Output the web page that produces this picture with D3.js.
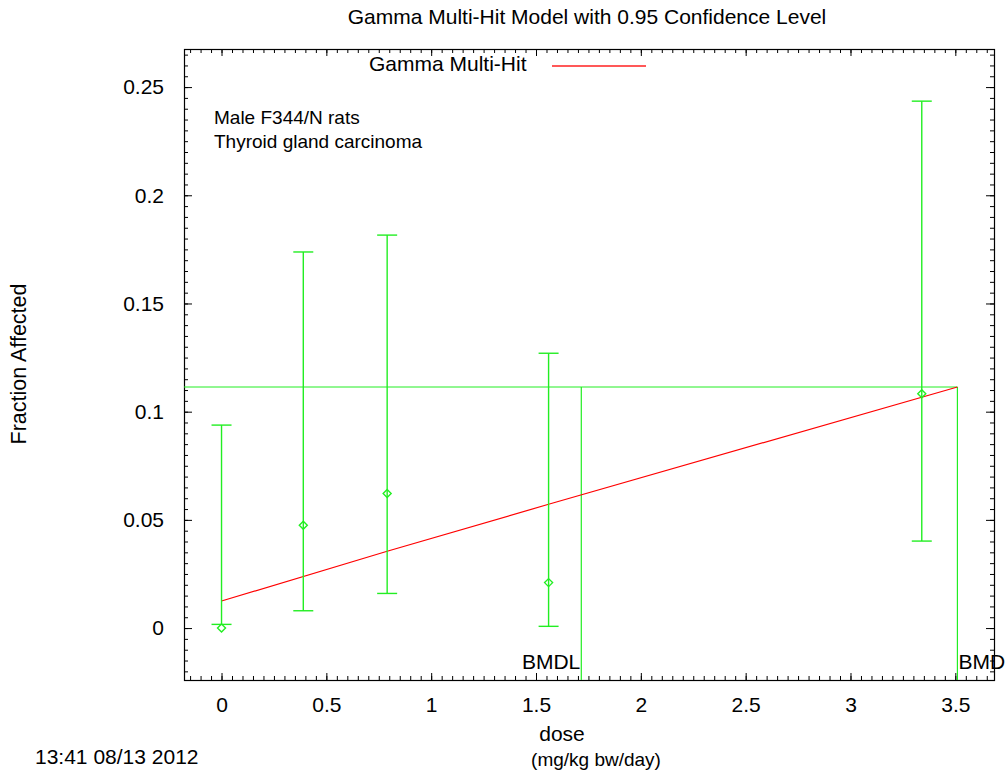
<!DOCTYPE html>
<html>
<head>
<meta charset="utf-8">
<script src="https://cdn.jsdelivr.net/npm/d3@7"></script>
<style>
  body { margin: 0; background: #fff; }
  text { font-family: "Liberation Sans", Arial, sans-serif; fill: #000; }
</style>
</head>
<body>
<div id="chart"></div>
<script>
// observed dose groups
var doses = [0, 0.39, 0.79, 1.56, 3.34];
var observed = [0, 0.0475, 0.0622, 0.021, 0.1083];
var lowerCI = [0.0017, 0.008, 0.016, 0.0008, 0.0402];
var upperCI = [0.0938, 0.1738, 0.1816, 0.127, 0.2435];

// fitted gamma multi-hit curve
var modelDose = [0, 0.79, 1.56, 3.51];
var modelFrac = [0.0125, 0.0355, 0.0572, 0.1114];

var bmd = 3.51, bmdl = 1.716, bmrLevel = 0.1114;

var xMajor = [0, 0.5, 1, 1.5, 2, 2.5, 3, 3.5];
var yMajor = [0, 0.05, 0.1, 0.15, 0.2, 0.25];
var xLabels = ["0", "0.5", "1", "1.5", "2", "2.5", "3", "3.5"];
var yLabels = ["0", "0.05", "0.1", "0.15", "0.2", "0.25"];

(function() {
var W = 1007, H = 776;
var pLeft = 184, pRight = 994, pTop = 49, pBottom = 680;

var svg = d3.select("#chart").append("svg")
    .attr("width", W)
    .attr("height", H);

var x = d3.scaleLinear().domain([-0.179, 3.6845]).range([pLeft, pRight]);
var y = d3.scaleLinear().domain([-0.024, 0.2676]).range([pBottom, pTop]);

// minor ticks every 0.05 / 0.005
var xMinor = d3.range(-3, 74).map(function(i) { return i * 0.05; })
    .filter(function(v) { return v > x.domain()[0] && v < x.domain()[1]; });
var yMinor = d3.range(-4, 54).map(function(i) { return i * 0.005; })
    .filter(function(v) { return v > y.domain()[0] && v < y.domain()[1]; });

var green = "#22ee22";

function tickAxis(axis, vals, size, fmt) {
    return axis.tickValues(vals).tickSize(size).tickFormat(fmt || "");
}

// bottom
svg.append("g").attr("transform", "translate(0," + pBottom + ")")
    .call(tickAxis(d3.axisBottom(x), xMinor, -4));
svg.append("g").attr("transform", "translate(0," + pBottom + ")")
    .call(tickAxis(d3.axisBottom(x), xMajor, -7, function(d, i) { return xLabels[i]; }).tickPadding(17));
// top
svg.append("g").attr("transform", "translate(0," + pTop + ")")
    .call(tickAxis(d3.axisTop(x), xMinor, -4));
svg.append("g").attr("transform", "translate(0," + pTop + ")")
    .call(tickAxis(d3.axisTop(x), xMajor, -7));
// left
svg.append("g").attr("transform", "translate(" + pLeft + ",0)")
    .call(tickAxis(d3.axisLeft(y), yMinor, -4));
svg.append("g").attr("transform", "translate(" + pLeft + ",0)")
    .call(tickAxis(d3.axisLeft(y), yMajor, -8, function(d, i) { return yLabels[i]; }).tickPadding(20));
// right
svg.append("g").attr("transform", "translate(" + pRight + ",0)")
    .call(tickAxis(d3.axisRight(y), yMinor, -4));
svg.append("g").attr("transform", "translate(" + pRight + ",0)")
    .call(tickAxis(d3.axisRight(y), yMajor, -8));

svg.selectAll(".domain").remove();
svg.selectAll(".tick line").attr("stroke", "#000");
svg.selectAll(".tick text")
    .style("font-size", "21px")
    .style("font-family", "'Liberation Sans', Arial, sans-serif")
    .attr("fill", "#000");

// frame
svg.append("rect")
    .attr("x", pLeft + 0.5).attr("y", pTop + 0.5)
    .attr("width", pRight - pLeft).attr("height", pBottom - pTop)
    .attr("fill", "none").attr("stroke", "#000").attr("stroke-width", 1.2);

// BMR horizontal and BMD/BMDL verticals
svg.append("line")
    .attr("x1", pLeft).attr("x2", x(bmd))
    .attr("y1", y(bmrLevel)).attr("y2", y(bmrLevel))
    .attr("stroke", green).attr("stroke-width", 1);
[bmdl, bmd].forEach(function(v) {
    svg.append("line")
        .attr("x1", x(v)).attr("x2", x(v))
        .attr("y1", y(bmrLevel)).attr("y2", pBottom)
        .attr("stroke", green).attr("stroke-width", 1.2);
});

svg.append("text").attr("x", x(bmdl) - 1).attr("y", 669)
    .attr("text-anchor", "end").style("font-size", "21px").text("BMDL");
svg.append("text").attr("x", x(bmd) + 1).attr("y", 669)
    .attr("text-anchor", "start").style("font-size", "21px").text("BMD");

// model line
var modelLine = d3.line()
    .x(function(d, i) { return x(modelDose[i]); })
    .y(function(d) { return y(d); });
svg.append("path")
    .datum(modelFrac)
    .attr("fill", "none")
    .attr("stroke", "#ff0000")
    .attr("stroke-width", 1.2)
    .attr("d", modelLine);

// error bars
var bars = svg.append("g").selectAll("g")
    .data(doses)
    .enter().append("g");
bars.append("line")
    .attr("x1", function(d) { return x(d); }).attr("x2", function(d) { return x(d); })
    .attr("y1", function(d, i) { return y(lowerCI[i]); })
    .attr("y2", function(d, i) { return y(upperCI[i]); })
    .attr("stroke", green).attr("stroke-width", 1.4);
bars.append("line")
    .attr("x1", function(d) { return x(d) - 10; }).attr("x2", function(d) { return x(d) + 10; })
    .attr("y1", function(d, i) { return y(lowerCI[i]); })
    .attr("y2", function(d, i) { return y(lowerCI[i]); })
    .attr("stroke", green).attr("stroke-width", 1.4);
bars.append("line")
    .attr("x1", function(d) { return x(d) - 10; }).attr("x2", function(d) { return x(d) + 10; })
    .attr("y1", function(d, i) { return y(upperCI[i]); })
    .attr("y2", function(d, i) { return y(upperCI[i]); })
    .attr("stroke", green).attr("stroke-width", 1.4);
bars.append("path")
    .attr("transform", function(d, i) { return "translate(" + x(d) + "," + y(observed[i]) + ")"; })
    .attr("d", "M0,-4L4,0L0,4L-4,0Z")
    .attr("fill", "none").attr("stroke", green).attr("stroke-width", 1.4);

// legend
svg.append("text").attr("x", 369).attr("y", 71)
    .style("font-size", "21px").text("Gamma Multi-Hit");
svg.append("path")
    .attr("d", d3.line()([[552, 66], [646, 66]]))
    .style("fill", "none")
    .style("stroke", "#ff2020")
    .style("stroke-width", "1.5px");

// annotation
svg.append("text").attr("x", 214).attr("y", 124)
    .style("font-size", "19px").text("Male F344/N rats");
svg.append("text").attr("x", 214).attr("y", 148)
    .style("font-size", "19px").text("Thyroid gland carcinoma");

// titles
svg.append("text").attr("x", 587).attr("y", 24)
    .attr("text-anchor", "middle").style("font-size", "21px")
    .text("Gamma Multi-Hit Model with 0.95 Confidence Level");
svg.append("text")
    .attr("transform", "translate(26,364) rotate(-90)")
    .attr("text-anchor", "middle").style("font-size", "21.5px")
    .text("Fraction Affected");
svg.append("text").attr("x", 562).attr("y", 741)
    .attr("text-anchor", "middle").style("font-size", "21px").text("dose");
svg.append("text").attr("x", 596).attr("y", 766)
    .attr("text-anchor", "middle").style("font-size", "19px").text("(mg/kg bw/day)");
svg.append("text").attr("x", 35).attr("y", 764)
    .style("font-size", "21px").text("13:41 08/13 2012");
})();
</script>
</body>
</html>
